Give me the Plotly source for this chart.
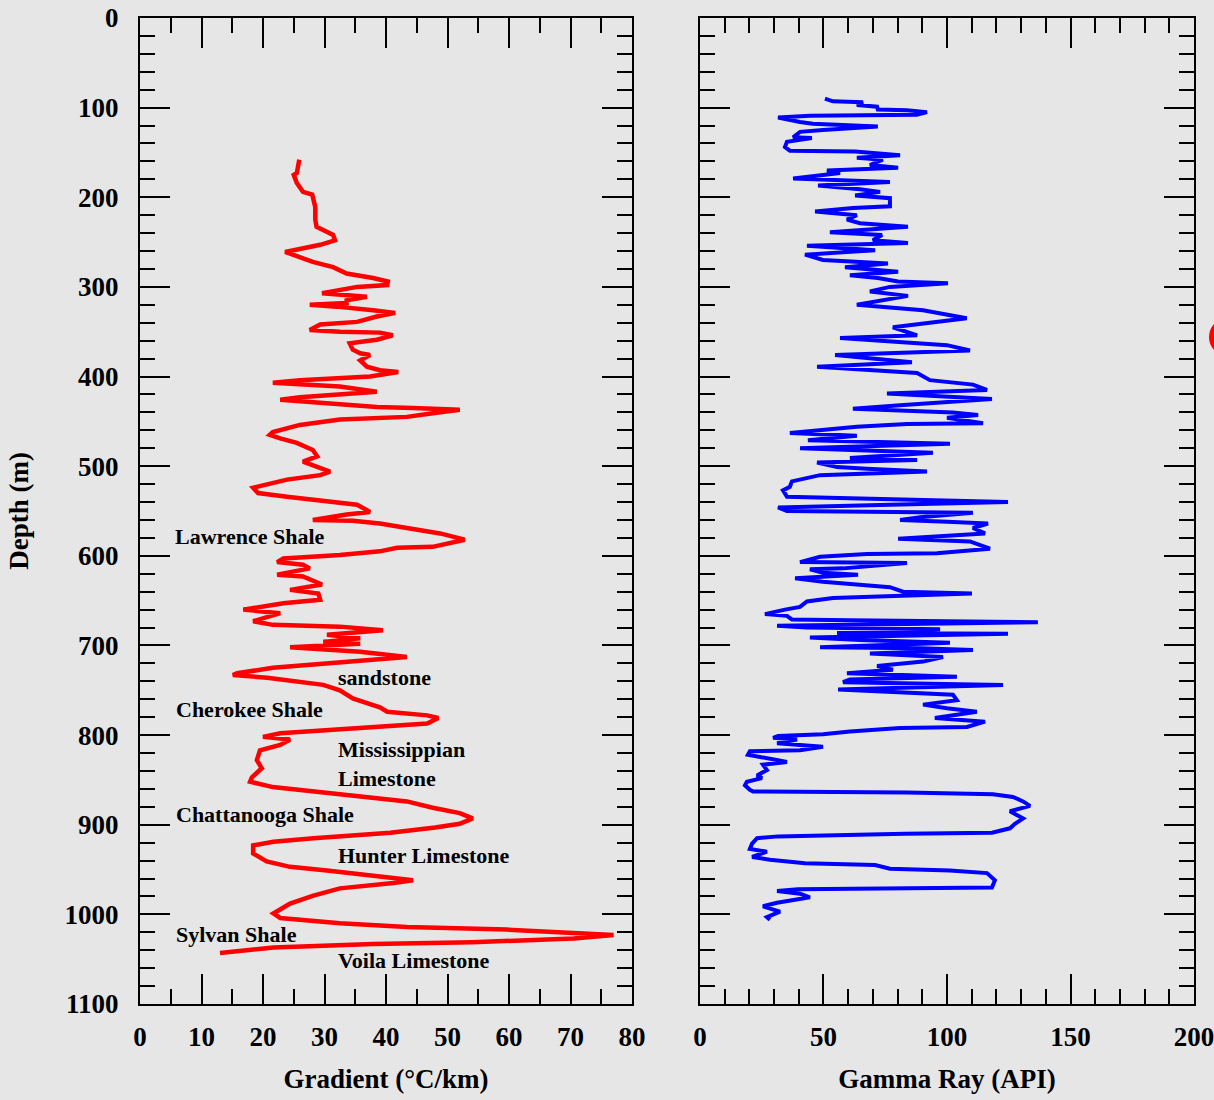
import plotly.graph_objects as go

# ---------------- data ----------------
grad_depth = [158, 173, 175, 184, 194, 197, 211, 225, 233, 242, 248, 253, 261, 264, 272, 278, 285, 290, 294, 298,
              300, 307, 309, 311, 315, 318, 320, 322, 326, 329, 333, 339, 342, 348, 350, 351, 354, 359, 363, 370,
              374, 376, 382, 389, 393, 395, 400, 404, 407, 411, 417, 423, 426, 430, 434, 435, 437, 441, 445, 448,
              454, 462, 465, 469, 474, 482, 489, 495, 499, 506, 510, 515, 524, 530, 534, 538, 543, 551, 554, 560,
              561, 564, 569, 575, 582, 590, 591, 595, 599, 603, 607, 610, 614, 621, 623, 632, 638, 642, 649, 653,
              660, 664, 673, 677, 679, 683, 688, 692, 696, 698, 702, 707, 713, 716, 720, 725, 731, 733, 736, 740,
              744, 750, 759, 769, 774, 778, 781, 787, 791, 794, 798, 802, 805, 811, 817, 828, 837, 847, 852, 858,
              863, 869, 874, 881, 887, 893, 899, 903, 909, 915, 919, 923, 932, 941, 947, 951, 957, 962, 965, 971,
              979, 988, 999, 1004, 1010, 1014, 1017, 1021, 1023, 1027, 1031, 1033, 1037, 1043]
grad_value = [25.9, 25.5, 25.0, 25.5, 26.5, 28.0, 28.5, 28.5, 28.7, 31.4, 31.7, 29.3, 23.6, 24.9, 28.1, 31.4, 33.6, 37.9, 40.3, 40.2,
              35.3, 29.6, 34.1, 36.9, 33.6, 33.6, 27.6, 32.0, 37.9, 41.5, 38.5, 35.3, 29.3, 27.6, 32.5, 39.0, 41.1, 38.5, 34.1, 34.6,
              35.8, 37.4, 35.8, 36.9, 39.0, 42.0, 37.4, 26.0, 21.6, 32.5, 38.5, 26.0, 22.8, 30.9, 38.5, 44.4, 52.0, 47.6, 43.4, 32.5,
              26.0, 21.6, 21.1, 22.8, 25.5, 28.1, 28.8, 26.5, 28.1, 30.9, 29.3, 23.9, 18.4, 19.2, 23.9, 29.3, 35.3, 37.4, 33.6, 28.1,
              34.6, 39.0, 43.4, 48.8, 52.8, 47.6, 41.8, 39.0, 32.5, 23.3, 22.3, 26.5, 27.6, 22.3, 26.5, 29.6, 24.4, 29.0, 29.3, 23.3,
              16.8, 22.8, 18.4, 21.6, 32.5, 39.5, 30.4, 35.8, 29.8, 35.8, 24.4, 35.8, 43.4, 37.9, 29.8, 21.6, 15.8, 15.1, 20.7, 24.9,
              29.8, 32.5, 34.6, 39.0, 40.2, 46.7, 48.5, 46.7, 37.9, 29.8, 22.8, 20.0, 24.4, 22.8, 19.5, 19.0, 19.8, 18.2, 17.9, 21.6,
              28.8, 37.9, 43.4, 47.6, 52.0, 54.1, 52.0, 48.0, 40.7, 28.2, 21.7, 18.4, 18.4, 20.6, 24.4, 30.4, 37.9, 44.4, 41.2, 32.5,
              28.2, 24.4, 21.7, 22.8, 32.5, 43.4, 59.6, 70.5, 77.0, 70.5, 54.0, 37.9, 21.7, 13.0]

gr_depth = [90, 93, 94, 97, 99, 102, 103, 105, 108, 109, 111, 114, 116, 118, 121, 125, 127, 133, 134, 138,
            144, 148, 149, 153, 156, 158, 164, 167, 170, 173, 179, 183, 187, 191, 194, 198, 201, 210, 212, 216,
            220, 225, 229, 233, 239, 242, 248, 251, 254, 259, 264, 270, 274, 278, 283, 287, 290, 294, 296, 300,
            305, 310, 320, 326, 335, 345, 354, 357, 365, 371, 376, 384, 389, 396, 404, 409, 415, 419, 423, 425,
            432, 436, 440, 443, 446, 452, 453, 456, 463, 466, 471, 475, 480, 485, 491, 493, 496, 501, 503, 506,
            510, 513, 517, 523, 527, 534, 536, 540, 543, 546, 550, 551, 552, 557, 560, 562, 564, 569, 575, 581,
            584, 592, 597, 598, 601, 607, 608, 614, 615, 619, 621, 625, 629, 635, 640, 642, 647, 651, 657, 660,
            665, 667, 671, 672, 674, 678, 680, 682, 686, 687, 691, 694, 697, 699, 702, 703, 705, 709, 713, 718,
            723, 727, 731, 735, 738, 741, 744, 749, 752, 755, 761, 766, 770, 774, 781, 785, 791, 792, 796, 799,
            801, 803, 805, 809, 813, 817, 818, 822, 828, 830, 833, 839, 845, 848, 852, 856, 861, 863, 864, 866,
            869, 874, 879, 885, 893, 899, 904, 909, 910, 913, 915, 921, 927, 930, 936, 939, 943, 945, 949, 951,
            954, 962, 970, 971, 972, 974, 977, 981, 985, 987, 991, 997, 1003, 1006]
gr_value = [50.6, 53.8, 66.0, 63.5, 71.7, 72.0, 83.8, 91.9, 87.8, 44.5, 31.6, 36.4, 40.5, 45.7, 72.0, 49.8, 40.5, 37.7, 45.3, 35.2,
            34.4, 36.4, 62.8, 81.0, 63.5, 74.0, 68.8, 80.2, 51.4, 56.7, 37.7, 76.9, 47.8, 64.8, 72.9, 62.8, 76.9, 76.9, 61.9, 46.6,
            63.5, 59.5, 64.8, 84.2, 52.6, 73.7, 70.0, 84.2, 43.3, 70.9, 42.5, 49.8, 76.1, 58.7, 80.2, 60.7, 72.0, 80.2, 100.4, 76.9,
            68.8, 84.2, 63.5, 90.3, 108.0, 78.1, 87.9, 56.7, 100.0, 109.3, 54.7, 85.8, 47.4, 87.9, 93.1, 110.5, 116.2, 75.7, 108.1, 118.2,
            81.0, 61.9, 102.4, 112.6, 100.0, 114.6, 83.8, 63.5, 36.4, 63.5, 43.7, 101.2, 40.5, 94.3, 60.7, 87.9, 47.4, 55.5, 67.6, 91.9,
            48.6, 43.3, 37.2, 36.4, 33.6, 35.2, 68.8, 124.7, 76.9, 31.6, 35.2, 78.1, 110.5, 89.1, 81.0, 100.0, 116.6, 110.5, 115.4, 80.2,
            109.3, 117.4, 95.9, 67.6, 48.6, 40.5, 83.8, 57.9, 44.5, 49.8, 64.0, 38.5, 49.8, 76.9, 82.2, 110.1, 53.8, 43.3, 40.5, 34.4,
            26.3, 35.2, 37.2, 60.7, 136.8, 31.2, 43.3, 97.2, 55.5, 124.7, 44.5, 64.8, 101.2, 81.0, 48.6, 89.1, 110.5, 68.8, 98.4, 90.3,
            71.7, 78.1, 59.5, 104.0, 60.7, 57.9, 122.7, 55.9, 76.9, 102.4, 104.0, 90.3, 100.0, 112.1, 95.1, 115.4, 108.1, 81.0, 60.7, 49.8,
            31.6, 29.6, 39.3, 31.2, 49.8, 40.5, 20.2, 19.4, 31.6, 35.2, 25.5, 27.1, 23.1, 25.1, 19.0, 18.2, 20.2, 21.5, 83.8, 118.6,
            126.7, 130.8, 133.6, 125.5, 130.8, 127.5, 125.5, 118.2, 83.0, 31.6, 23.1, 21.1, 20.2, 27.1, 21.1, 28.3, 42.5, 70.9, 76.9, 101.2,
            116.2, 119.4, 118.2, 90.3, 39.7, 31.2, 40.5, 44.5, 36.4, 31.2, 25.5, 32.4, 27.1, 28.3]

formation_labels = ["Lawrence Shale", "sandstone", "Cherokee Shale", "Mississippian<br>Limestone",
                    "Chattanooga Shale", "Hunter Limestone", "Sylvan Shale", "Voila Limestone"]
formation_x = [5.3, 31.8, 5.5, 31.8, 5.5, 31.8, 5.5, 31.8]
formation_depth = [579, 736, 771, 832, 889, 934, 1023, 1052]

depth_ticks = [0, 100, 200, 300, 400, 500, 600, 700, 800, 900, 1000, 1100]

# ---------------- figure ----------------
BG = "#e6e6e6"
FONT = "Liberation Serif, Times New Roman, serif"

fig = go.Figure()
fig.add_trace(go.Scatter(x=grad_value, y=grad_depth, mode="lines",
                         line=dict(color="#ff0000", width=4.5), xaxis="x", yaxis="y",
                         showlegend=False))
fig.add_trace(go.Scatter(x=gr_value, y=gr_depth, mode="lines",
                         line=dict(color="#0000ff", width=4), xaxis="x2", yaxis="y2",
                         showlegend=False))

tickfont = dict(family=FONT, size=27, color="black", weight="bold")
titlefont = dict(family=FONT, size=27, color="black", weight="bold")

common_axis = dict(showline=True, linecolor="black", linewidth=2, mirror="ticks",
                   ticks="inside", ticklen=30, tickwidth=2, tickcolor="black",
                   showgrid=False, zeroline=False, tickfont=tickfont, automargin=False,
                   ticklabeloverflow="allow")

fig.update_layout(
    width=1214, height=1100,
    paper_bgcolor=BG, plot_bgcolor=BG,
    margin=dict(l=140, r=20, t=18, b=96),
    xaxis=dict(domain=[0, 0.4668], range=[0, 80], dtick=10, tick0=0,
               minor=dict(dtick=5, ticklen=15, tickwidth=2, tickcolor="black", ticks="inside"),
               title=dict(text="Gradient (°C/km)", font=titlefont, standoff=18),
               ticklabelstandoff=8, anchor="y", **common_axis),
    yaxis=dict(domain=[0, 1], range=[1100, 0], tickvals=depth_ticks,
               minor=dict(dtick=20, ticklen=15, tickwidth=2, tickcolor="black", ticks="inside"),
               title=dict(text="Depth (m)", font=titlefont, standoff=28),
               ticklabelstandoff=14, anchor="x", **common_axis),
    xaxis2=dict(domain=[0.5313, 1.0], range=[0, 200], dtick=50, tick0=0,
                minor=dict(dtick=10, ticklen=15, tickwidth=2, tickcolor="black", ticks="inside"),
                title=dict(text="Gamma Ray (API)", font=titlefont, standoff=18),
                ticklabelstandoff=8, anchor="y2", **common_axis),
    yaxis2=dict(domain=[0, 1], range=[1100, 0], tickvals=depth_ticks, showticklabels=False,
                minor=dict(dtick=20, ticklen=15, tickwidth=2, tickcolor="black", ticks="inside"),
                anchor="x2", **common_axis),
)

for txt, xv, dv in zip(formation_labels, formation_x, formation_depth):
    fig.add_annotation(x=xv, y=dv, xref="x", yref="y", text=txt, showarrow=False,
                       xanchor="left", yanchor="middle", align="left",
                       font=dict(family=FONT, size=22, color="black", weight="bold"))

# partial red circle at the right edge of the picture
fig.add_shape(type="circle", xref="paper", yref="paper",
              x0=1.0152, x1=1.053, y0=0.6572, y1=0.6957,
              fillcolor="#ff0000", line=dict(color="#ff0000", width=2))

fig.write_html("out.html")
